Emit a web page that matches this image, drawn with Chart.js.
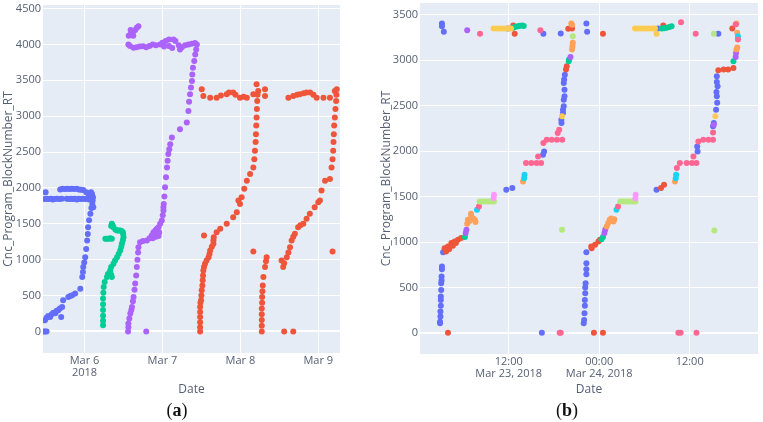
<!DOCTYPE html>
<html>
<head>
<meta charset="utf-8">
<script src="https://cdn.jsdelivr.net/npm/chart.js@4.4.0/dist/chart.umd.min.js"></script>
<style>
  html, body { margin: 0; padding: 0; background: #fff; }
  #wrap { position: relative; width: 763px; height: 422px; overflow: hidden; }
  canvas { position: absolute; top: 0; }
  .cap { position: absolute; top: 400px; font-family: "Liberation Serif", serif; font-size: 18px; color: #111; width: 40px; text-align: center; }
</style>
</head>
<body>
<div id="wrap">
  <canvas id="chartA" width="380" height="422" style="left:0"></canvas>
  <canvas id="chartB" width="385" height="422" style="left:378px"></canvas>
  <div class="cap" style="left:157px">(<b>a</b>)</div>
  <div class="cap" style="left:547px">(<b>b</b>)</div>
</div>
<script>
// (a) x = hours since Mar 5 2018 00:00, y = block number
var blueA = [[11.4,0],[11.9,0],[12.3,0],
  [11.8,157],[12.3,190],[12.8,215],[13.4,203],[13.9,240],[14.4,262],[15.0,254],[15.4,290],[15.9,296],[16.4,320],[16.8,203],[17.1,342],[17.4,435],
  [19.0,481],[19.6,495],[20.2,504],[21.1,528],[22.7,597],[23.3,758],[23.5,830],[23.6,897],[23.9,960],[24.2,1036],[24.5,1150],[24.8,1268],[25.0,1360],[25.1,1453],[25.4,1550],[25.8,1639],[26.1,1720],[26.4,1778],[26.5,1824],[26.7,1731],[26.6,1870],[26.3,1917],[26.0,1940],
  [11.8,1847],[12.4,1850],[13.0,1845],[13.6,1850],[14.2,1840],[14.8,1847],[15.5,1850],[16.3,1845],[17.0,1850],[18.5,1850],[19.2,1845],[19.8,1850],[20.4,1847],[21.0,1850],[21.6,1840],[22.2,1850],[22.8,1847],[23.5,1850],[24.1,1845],[24.8,1850],[25.4,1840],[26.0,1850],
  [16.5,1980],[17.2,1990],[18.0,1985],[18.7,1990],[19.4,1985],[20.1,1990],[20.8,1985],[21.5,1990],[22.2,1980],[22.9,1975],[23.6,1970],[24.5,1940],[25.2,1920],[12.0,1939]];
var greenA = [[29.7,88],[29.7,150],[29.7,220],[29.7,300],[29.7,380],[29.7,460],[29.8,540],[29.9,620],[30.2,690],[30.9,758],[31.2,800],[31.9,851],[32.2,900],[32.9,944],[33.4,990],[34.0,1036],[34.5,1080],[35.0,1129],[35.3,1180],[35.5,1222],[35.8,1270],[36.0,1314],[35.9,1360],[35.8,1383],[35.4,1400],[35.0,1407],[34.5,1407],[34.0,1407],[33.5,1420],[32.9,1453],[32.6,1480],[32.4,1500],[32.2,1470],
  [30.4,1292],[30.9,1292],[31.4,1292],[31.9,1300],[32.4,1292],[32.4,758],[32.2,790]];
var purpleA = [[37.4,0],[37.5,60],[37.5,111],[37.8,180],[38.1,250],[38.4,300],[38.6,342],[38.9,420],[39.1,481],[39.4,580],[39.6,667],[39.9,780],[40.1,897],[40.3,1000],[40.5,1100],[40.6,1175],[41.1,1244],[42.0,1260],[43.2,1268],[44.0,1300],[44.7,1337],[45.2,1380],[45.8,1407],[46.3,1430],[46.8,1453],[47.3,1500],[47.8,1546],[48.1,1620],[48.3,1685],[48.3,1731],[48.4,1778],[48.6,1880],[48.8,2009],[49.1,2150],[49.4,2286],[49.6,2380],[49.8,2472],[50.1,2540],[50.4,2611],[50.9,2703],[53.4,2820],[55.5,2911],[56.0,3074],[56.2,3200],[56.5,3306],[56.8,3400],[57.1,3491],[57.2,3580],[57.4,3676],[57.8,3770],[58.1,3861],[58.4,3930],[58.6,4000],
  [43.0,0],[45.0,1300],[45.5,1350],[46.0,1320],[46.5,1400],[47.0,1380],[46.8,1330],
  [37.5,4000],[38.0,3980],[39.1,3953],[40.0,3960],[41.0,3970],[42.0,3975],[43.0,3960],[44.0,3980],[45.0,4000],[46.0,3990],[47.3,4000],[48.0,4023],[49.0,4050],[50.0,4070],[51.4,4070],[52.0,4050],[53.0,3990],[53.4,3930],[54.0,3960],[55.0,3990],[56.0,4000],[57.0,4010],[58.0,4020],[51.0,3950],[50.0,3980],[48.5,3970],
  [37.6,4120],[38.1,4140],[38.6,4170],[39.1,4185],[39.6,4200],[40.1,4232],[40.6,4255],[39.0,4120],[38.2,4200]];
var redA = [[59.6,0],[59.6,60],[59.6,130],[59.6,203],[59.6,270],[59.6,342],[59.7,400],[59.9,435],[60.0,500],[60.1,574],[60.3,640],[60.4,713],[60.5,780],[60.6,851],[60.8,900],[61.1,944],[61.6,990],[62.2,1036],[62.5,1080],[62.7,1129],[63.2,1180],[63.7,1222],[63.7,1270],[63.8,1314],[64.7,1383],[65.8,1430],[67.8,1500],[69.8,1592],[70.9,1661],[71.9,1778],[71.4,1824],[72.4,1870],[73.2,1990],[74.0,2101],[75.0,2194],[76.0,2286],[76.3,2400],[76.5,2518],[76.7,2640],[76.8,2750],[76.9,2870],[77.0,2981],[77.1,3100],[77.2,3213],[77.5,3352],[77.3,3300],[77.0,3445],
  [60.8,1337],
  [60.1,3375],[60.6,3282],[62.7,3259],[64.7,3259],[66.0,3290],[67.8,3306],[68.5,3330],[69.8,3329],[70.5,3300],[71.9,3259],[73.0,3270],[74.0,3259],[76.0,3306],[79.6,3375],[79.6,3282],
  [76.0,1115],
  [78.6,0],[78.6,80],[78.6,160],[78.6,240],[78.6,320],[78.7,400],[78.7,480],[78.8,560],[78.9,640],[79.1,758],[79.6,897],[80.1,1036],[79.9,980],
  [85.5,0],[88.3,0],
  [84.7,990],[85.2,897],[85.5,950],[86.3,1036],[86.8,1100],[87.3,1175],[87.8,1268],[88.3,1320],[88.8,1361],[89.8,1453],[90.5,1480],[91.4,1500],[92.4,1570],[93.4,1639],[94.9,1731],[96.0,1800],[96.5,1824],[97.0,1963],[98.1,2101],[99.6,2125],[100.1,2286],[100.4,2400],[100.6,2518],[100.7,2640],[100.8,2750],[100.9,2870],[101.1,2981],[101.3,3100],[101.5,3213],[101.7,3375],[101.6,3300],
  [100.4,1115],
  [86.8,3259],[88.3,3282],[89.5,3300],[90.3,3306],[91.5,3320],[92.4,3329],[93.5,3330],[94.5,3300],[95.5,3259],[97.6,3259],[99.6,3259],[101.1,3352]];

// (b) x = hours since Mar 23 2018 00:00
var s0B = [[3.15,3402],[3.15,3373],[3.4,3311],
  [2.9,107],[2.9,124],[2.95,180],[2.95,235],[3.0,300],[3.0,363],[3.0,400],[3.05,473],[3.05,547],[3.1,580],[3.1,620],[3.15,700],[3.15,730],[3.3,888],
  [11.68,1574],[12.48,1593],[16.55,1960],[16.7,1996],
  [18.98,2345],[19.2,2455],[19.3,2492],[19.3,2565],[19.4,2602],[19.4,2675],[19.3,2749],[19.35,2786],[19.45,2840],[19.2,2420],[19.0,2309],
  [16.6,3289],[18.9,3292],[22.3,3402],[22.4,3311],[11.9,3347],[16.4,3],
  [21.95,107],[22.0,143],[22.05,217],[22.1,300],[22.1,363],[22.15,437],[22.15,500],[22.2,547],[22.3,646],[22.3,700],[22.3,767],[22.3,888],
  [31.6,1574],[31.8,3347],[39.8,3289],[39.6,2822],[39.7,2712],[39.6,2602],[39.65,2530],[39.5,2455],[39.2,2309],[39.1,2272],[37.0,2051],[37.05,1996],[39.6,2760],[39.55,2650]];
var s1B = [[3.95,3],[3.5,933],[3.7,895],[3.95,950],[4.4,988],[4.84,1005],[5.28,1024],[5.7,1043],[4.1,920],[4.6,960],[5.0,990],
  [12.6,3380],[12.8,3289],[19.9,3344],[23.3,3],[19.6,2896],[19.7,2932],[20.4,3347],[24.5,3289],[24.5,3],
  [23.0,933],[22.95,950],[23.45,969],[23.9,1005],[24.1,1024],[32.2,1593],[32.6,1630],
  [39.8,2888],[40.5,2896],[41.1,2896],[41.8,2914],[41.65,3347],[32.5,3380]];
var s2B = [[12.6,3355],[12.9,3366],[13.2,3373],[13.5,3378],[13.8,3380],[14.0,3375],[19.96,2987],[20.0,3006],[6.2,1054],
  [32.3,3347],[32.6,3350],[32.95,3355],[33.3,3365],[33.6,3373],[24.5,1054],[41.8,2987],[24.3,1030]];
var s3B = [[6.5,3329],[6.4,1134],[6.3,1098],[20.2,3035],[24.8,1134],[24.7,1100],[42.1,3035],[42.15,3079],[39.2,2290]];
var s4B = [[6.5,1200],[6.6,1244],[6.8,1230],[7.04,1280],[7.0,1310],[7.3,1260],[7.5,1244],[7.6,1220],[13.9,1666],[20.3,3402],[20.4,3390],[20.4,3116],[20.45,3152],[20.5,3190],
  [25.0,1170],[25.2,1210],[25.4,1244],[25.6,1260],[25.9,1225],[26.0,1250],[34.05,1666],[42.2,3402],[42.3,3300],[42.2,3116],[42.3,3140]];
var s5B = [[7.8,1354],[14.1,1740],[14.05,1700],[26.3,1354],[34.2,1740],[34.15,1700],[42.4,3262]];
var s6B = [[8.2,3289],[16.2,3329],[8.06,1391],[14.3,1868],[15.0,1868],[15.7,1868],[16.3,1868],[15.9,1941],[16.6,2089],[17.04,2125],[17.7,2125],[18.4,2125],[19.1,2125],[18.5,2199],[18.7,2235],[18.76,3],[18.9,3],
  [34.85,3416],[36.8,3289],[34.5,3],[34.8,3],[36.9,3],[26.5,1391],[34.7,1868],[35.6,1868],[36.3,1868],[36.9,1868],[34.3,1813],[36.5,1941],[37.15,2106],[37.8,2125],[38.5,2125],[39.1,2125],[39.1,2205],[42.4,3226],[42.1,3391]];
var s7B = [[8.15,1446],[8.5,1446],[8.8,1446],[9.2,1446],[9.5,1446],[9.8,1446],[10.05,1446],[19.07,1134],[20.5,3262],
  [26.8,1446],[27.1,1446],[27.4,1446],[27.8,1446],[28.1,1446],[28.5,1446],[28.8,1446],[39.27,1127],[39.2,3289]];
var s8B = [[10.05,1519],[10.0,1483],[28.84,1519],[28.8,1480]];
var s9B = [[10.0,3347],[10.4,3347],[10.8,3347],[11.2,3347],[11.6,3347],[12.0,3347],[12.3,3347],[19.07,2382],
  [28.75,3347],[29.1,3347],[29.5,3347],[29.9,3347],[30.3,3347],[30.7,3347],[31.1,3347],[31.4,3347],[31.6,3289],[39.4,2382]];

var xTicksA = [24, 48, 72, 96];
var xLabelsA = [['Mar 6', '2018'], 'Mar 7', 'Mar 8', 'Mar 9'];
var yTicksA = [0, 500, 1000, 1500, 2000, 2500, 3000, 3500, 4000, 4500];
var xTicksB = [12, 24, 36];
var xLabelsB = [['12:00', 'Mar 23, 2018'], ['00:00', 'Mar 24, 2018'], '12:00'];
var yTicksB = [0, 500, 1000, 1500, 2000, 2500, 3000, 3500];

var colorsA = ['#636EFA', '#00CC96', '#AB63FA', '#EF553B'];
var colorsB = ['#636EFA', '#EF553B', '#00CC96', '#AB63FA', '#FFA15A', '#19D3F3', '#FF6692', '#B6E880', '#FF97FF', '#FECB52'];

var txt = '#566074';

// plotly-like grey-blue plot area
var plotBg = {
  id: 'plotBg',
  beforeDraw: function(chart) {
    var a = chart.chartArea, ctx = chart.ctx;
    ctx.save();
    ctx.fillStyle = '#E5ECF6';
    ctx.fillRect(a.left, a.top, a.right - a.left, a.bottom - a.top);
    ctx.restore();
  }
};

function makeChart(id, series, colors, xr, yr, xTicks, xLabels, yTicks, pad, yw, xh) {
  new Chart(document.getElementById(id), {
    type: 'scatter',
    data: {
      datasets: series.map(function(s, i) {
        return {
          data: s.map(function(p) { return {x: p[0], y: p[1]}; }),
          backgroundColor: colors[i],
          borderWidth: 0,
          pointRadius: 3,
          pointHoverRadius: 3,
          order: -i
        };
      })
    },
    options: {
      responsive: false,
      animation: false,
      events: [],
      layout: { padding: pad },
      plugins: { legend: { display: false }, tooltip: { enabled: false } },
      scales: {
        x: {
          type: 'linear', min: xr[0], max: xr[1],
          afterBuildTicks: function(s) { s.ticks = xTicks.map(function(v) { return {value: v}; }); },
          afterFit: function(s) { s.height = xh; s.paddingLeft = 0; s.paddingRight = 0; },
          grid: { color: '#ffffff', lineWidth: 1, drawTicks: false },
          border: { display: false },
          ticks: {
            padding: 2, color: txt, maxRotation: 0, autoSkip: false,
            font: { family: 'Open Sans', size: 11, lineHeight: 1.1 },
            callback: function(v, i) { return xLabels[i]; }
          },
          title: { display: true, text: 'Date', color: txt, padding: 0, font: { family: 'Open Sans', size: 12 } }
        },
        y: {
          min: yr[0], max: yr[1],
          afterBuildTicks: function(s) { s.ticks = yTicks.map(function(v) { return {value: v}; }); },
          afterFit: function(s) { s.width = yw; s.paddingTop = 0; s.paddingBottom = 0; },
          grid: {
            color: '#ffffff', drawTicks: false,
            lineWidth: function(c) { return c.tick && c.tick.value === 0 ? 2 : 1; }
          },
          border: { display: false },
          ticks: {
            padding: 2, color: txt, font: { family: 'Open Sans', size: 11 },
            callback: function(v) { return String(v); }
          },
          title: { display: true, text: 'Cnc_Program_BlockNumber_RT', color: txt, padding: {top: 1, bottom: 0}, font: { family: 'Open Sans', size: 12 } }
        }
      }
    },
    plugins: [plotBg]
  });
}

makeChart('chartA', [blueA, greenA, purpleA, redA], colorsA, [11.2, 102.7], [-300, 4550],
  xTicksA, xLabelsA, yTicksA, {left: 0, top: 5, right: 40, bottom: 25}, 43, 44);
makeChart('chartB', [s0B, s1B, s2B, s3B, s4B, s5B, s6B, s7B, s8B, s9B], colorsB, [0.24, 45.06], [-231, 3628],
  xTicksB, xLabelsB, yTicksB, {left: 0, top: 3, right: 5, bottom: 25}, 42, 43);
</script>
</body>
</html>
